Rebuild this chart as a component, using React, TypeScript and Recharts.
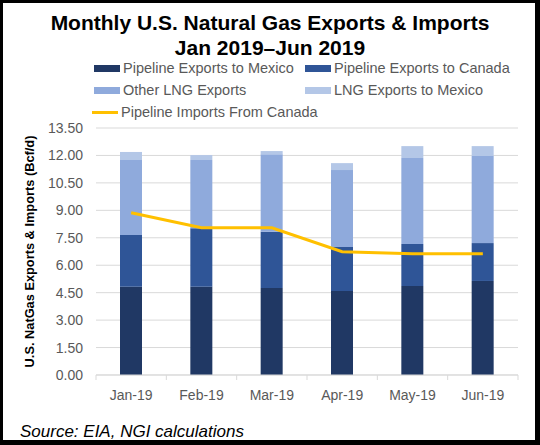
import { ComposedChart, Bar, Line, XAxis, YAxis, CartesianGrid, Label } from "recharts"

const months = ["Jan-19", "Feb-19", "Mar-19", "Apr-19", "May-19", "Jun-19"]
const pipelineMexico = [4.83, 4.83, 4.75, 4.59, 4.86, 5.14]
const pipelineCanada = [2.82, 3.19, 3.08, 2.4, 2.3, 2.07]
const otherLng = [4.1, 3.73, 4.23, 4.21, 4.7, 4.76]
const lngMexico = [0.44, 0.27, 0.18, 0.38, 0.65, 0.54]
const importsCanada = [8.87, 8.05, 8.05, 6.74, 6.63, 6.63]
const yTicks = [0, 1.5, 3, 4.5, 6, 7.5, 9, 10.5, 12, 13.5]

const data = months.map((m, i) => ({
  month: m,
  pipeMex: pipelineMexico[i],
  pipeCan: pipelineCanada[i],
  otherLng: otherLng[i],
  lngMex: lngMexico[i],
  imports: importsCanada[i],
}))

const colors = {
  pipeMex: "#203864",
  pipeCan: "#2F5597",
  otherLng: "#8FAADC",
  lngMex: "#B4C7E7",
  imports: "#FFC000",
}

const font = "'Liberation Sans', Arial, sans-serif"
const gray = "#595959"

function MonthTick(props: any) {
  const { x, y, payload, index } = props
  const half = payload && payload.offset ? payload.offset : 35
  return (
    <g>
      <line x1={x - half} y1={y - 8} x2={x - half} y2={y - 3} stroke="#d9d9d9" />
      {index === months.length - 1 && (
        <line x1={x + half} y1={y - 8} x2={x + half} y2={y - 3} stroke="#d9d9d9" />
      )}
      <text x={x} y={y} dy={17} textAnchor="middle" fill={gray} fontSize={14} fontFamily={font}>
        {payload.value}
      </text>
    </g>
  )
}

function LegendBox() {
  const item = (label: string, color: string, left: number, top: number, line = false) => (
    <div key={label} style={{ position: "absolute", left, top, display: "flex", alignItems: "center", whiteSpace: "nowrap" }}>
      <span
        style={{
          display: "inline-block",
          width: 26,
          height: line ? 3 : 7,
          background: color,
          marginRight: 3,
        }}
      />
      <span style={{ fontSize: 14.5, color: gray, fontFamily: font }}>{label}</span>
    </div>
  )
  return (
    <div style={{ position: "absolute", left: -3, top: 57, width: 540, height: 70 }}>
      {item("Pipeline Exports to Mexico", colors.pipeMex, 94, 0)}
      {item("Pipeline Exports to Canada", colors.pipeCan, 305, 0)}
      {item("Other LNG Exports", colors.otherLng, 94, 22)}
      {item("LNG Exports to Mexico", colors.lngMex, 305, 22)}
      {item("Pipeline Imports From Canada", colors.imports, 92, 44, true)}
    </div>
  )
}

export default function App() {
  return (
    <div
      style={{
        position: "absolute",
        left: 0,
        top: 0,
        width: 540,
        height: 445,
        boxSizing: "border-box",
        borderStyle: "solid",
        borderColor: "#000",
        borderWidth: "3px 5px 5px 3px",
        background: "#fff",
        fontFamily: font,
        overflow: "hidden",
      }}
    >
      <div
        style={{
          position: "absolute",
          left: -3,
          top: 7,
          width: 540,
          textAlign: "center",
          fontWeight: "bold",
          fontSize: 21,
          lineHeight: "25px",
          color: "#000",
        }}
      >
        Monthly U.S. Natural Gas Exports &amp; Imports
        <br />
        Jan 2019–Jun 2019
      </div>
      <LegendBox />
      <div style={{ position: "absolute", left: -3, top: -3 }}>
        <ComposedChart width={540} height={445} data={data} margin={{ top: 128, right: 22, bottom: 40, left: 0 }}>
          <CartesianGrid vertical={false} stroke="#d9d9d9" />
          <XAxis
            dataKey="month"
            axisLine={{ stroke: "#d9d9d9" }}
            tickLine={false}
            tick={<MonthTick />}
            interval={0}
            height={30}
          />
          <YAxis
            width={96}
            domain={[0, 13.5]}
            ticks={yTicks}
            interval={0}
            axisLine={false}
            tickLine={false}
            tickMargin={7}
            tickFormatter={(v: number) => v.toFixed(2)}
            tick={{ fill: gray, fontSize: 14, fontFamily: font }}
          >
            <Label
              value="U.S. NatGas Exports & Imports (Bcf/d)"
              angle={-90}
              position="center"
              dx={-19}
              style={{ fontWeight: "bold", fontSize: 12.8, fill: "#000", fontFamily: font }}
            />
          </YAxis>
          <Bar dataKey="pipeMex" stackId="a" fill={colors.pipeMex} barSize={22} isAnimationActive={false} />
          <Bar dataKey="pipeCan" stackId="a" fill={colors.pipeCan} barSize={22} isAnimationActive={false} />
          <Bar dataKey="otherLng" stackId="a" fill={colors.otherLng} barSize={22} isAnimationActive={false} />
          <Bar dataKey="lngMex" stackId="a" fill={colors.lngMex} barSize={22} isAnimationActive={false} />
          <Line
            type="linear"
            dataKey="imports"
            stroke={colors.imports}
            strokeWidth={3}
            dot={false}
            isAnimationActive={false}
          />
        </ComposedChart>
      </div>
      <div
        style={{
          position: "absolute",
          left: 17,
          top: 419,
          fontStyle: "italic",
          fontSize: 17,
          color: "#000",
        }}
      >
        Source: EIA, NGI calculations
      </div>
    </div>
  )
}
